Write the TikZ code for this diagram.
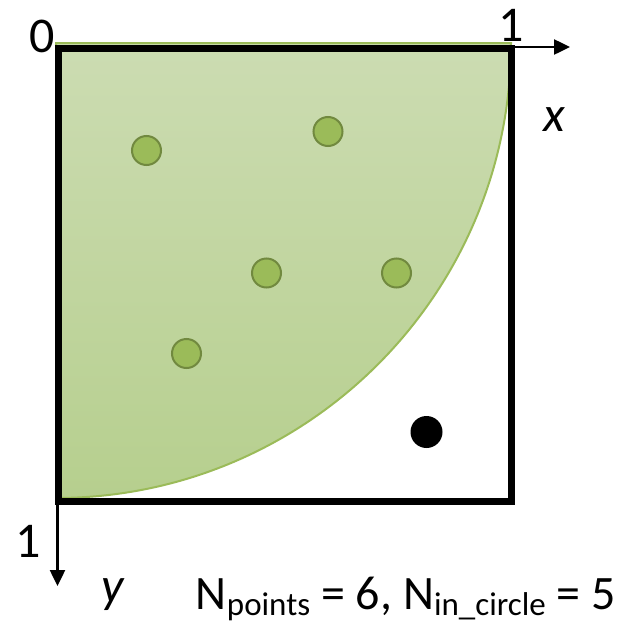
\documentclass[tikz,border=0pt]{standalone}
\usepackage{fontspec}
\setmainfont{Carlito}
\usetikzlibrary{arrows.meta}
\definecolor{gtop}{RGB}{204,220,178}
\definecolor{gbot}{RGB}{182,207,142}
\definecolor{gedge}{RGB}{155,187,89}
\definecolor{ptfill}{RGB}{155,187,89}
\definecolor{ptedge}{RGB}{113,137,63}
\newcommand{\mysub}[1]{\raisebox{-6pt}{\fontsize{33}{38}\selectfont #1}}
\tikzset{
  inpt/.style={circle,fill=ptfill,draw=ptedge,line width=2pt,minimum size=29pt,inner sep=0pt},
  outpt/.style={circle,fill=black,minimum size=32pt,inner sep=0pt},
  axis/.style={line width=2.5pt,-{Triangle[length=16pt,width=15pt]}},
  lbl/.style={font=\fontsize{50}{60}\selectfont,inner sep=0pt},
}
\begin{document}
\begin{tikzpicture}[x=1pt,y=-1pt]
\useasboundingbox (0,0) rectangle (621,624);
% quarter circle region
\shade[top color=gtop,bottom color=gbot,draw=gedge,line width=2pt]
  (56,43) -- (511,43) .. controls (511,294) and (307,498) .. (56,498) -- cycle;
% square
\draw[line width=7pt] (58.5,48.5) rectangle (511,501);
% axes
\coordinate (o) at (57.5,47);
\coordinate (xe) at (570,47);
\coordinate (ye) at (57.5,586);
\draw[axis] (o) -- (xe);
\draw[axis] (o) -- (ye);
% labels
\node[lbl] (l0) at (42,36) {0};
\node[lbl] (l1x) at (511,25) {1};
\node[lbl] (lx) at (554,120) {\itshape x};
\node[lbl] (l1y) at (28,541) {1};
\node[lbl] (ly) at (113,595) {\itshape y};
\node[lbl,anchor=base east,font=\fontsize{48}{56}\selectfont] (ltxt) at (616,609) {N\mysub{points} = 6, N\mysub{in\_circle} = 5};
% points
\node[inpt] (p1) at (146.5,150.5) {};
\node[inpt] (p2) at (328,131.5) {};
\node[inpt] (p3) at (266.5,273) {};
\node[inpt] (p4) at (396.5,273) {};
\node[inpt] (p5) at (186.5,353.5) {};
\node[outpt] (p6) at (426.5,432) {};
\end{tikzpicture}
\end{document}
